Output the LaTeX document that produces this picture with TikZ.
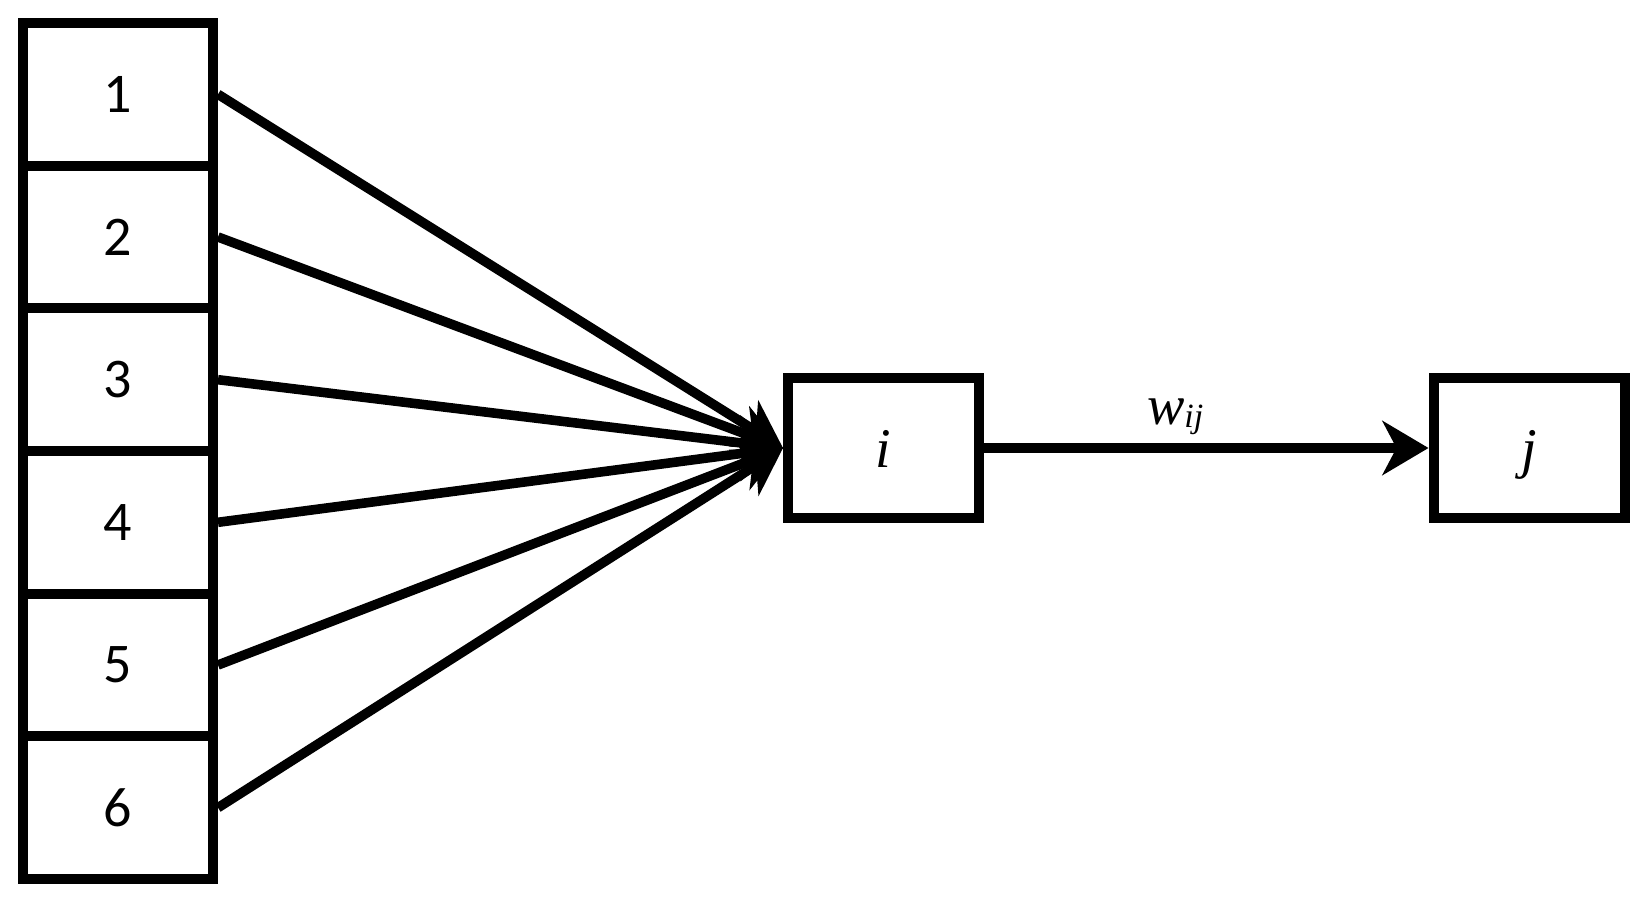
\documentclass[tikz,border=0pt]{standalone}
\usepackage{fontspec}
\setmainfont{Carlito}
\newfontfamily\serifit{Liberation Serif}
\usetikzlibrary{arrows.meta}

\begin{document}
\begin{tikzpicture}[x=0.5pt, y=-0.5pt,
  cell/.style={draw, line width=5pt, minimum width=95pt, minimum height=71.33pt, inner sep=0pt, font=\fontsize{28}{30}\selectfont},
  unit/.style={draw, line width=5pt, minimum width=95.5pt, minimum height=70pt, inner sep=0pt, text height=19pt, text depth=0pt, font=\fontsize{28}{30}\selectfont\serifit\itshape},
  link/.style={line width=4.8pt, -{Stealth[length=23pt, width=27pt, inset=7pt]}}]
\useasboundingbox (0,0) rectangle (1647,904);

% Input cells
\node[cell] (c1) at (118, 94.3) {1};
\node[cell] (c2) at (118, 237.0) {2};
\node[cell] (c3) at (118, 379.7) {3};
\node[cell] (c4) at (118, 522.3) {4};
\node[cell] (c5) at (118, 665.0) {5};
\node[cell] (c6) at (118, 807.7) {6};

% Units
\node[unit] (i) at (883.5, 448) {i};
\node[unit] (j) at (1529, 448) {j};

% Connections into i
\draw[link] (c1.east) -- (i.west);
\draw[link] (c2.east) -- (i.west);
\draw[link] (c3.east) -- (i.west);
\draw[link] (c4.east) -- (i.west);
\draw[link] (c5.east) -- (i.west);
\draw[link] (c6.east) -- (i.west);

% Weight from i to j
\draw[link] (i) -- node[pos=0.43, anchor=base, yshift=12pt, inner sep=0pt, font=\fontsize{28}{30}\selectfont\serifit\itshape] (wij) {w\raisebox{-1.5pt}{\fontsize{17}{18}\selectfont ij}} (j);
\end{tikzpicture}
\end{document}
